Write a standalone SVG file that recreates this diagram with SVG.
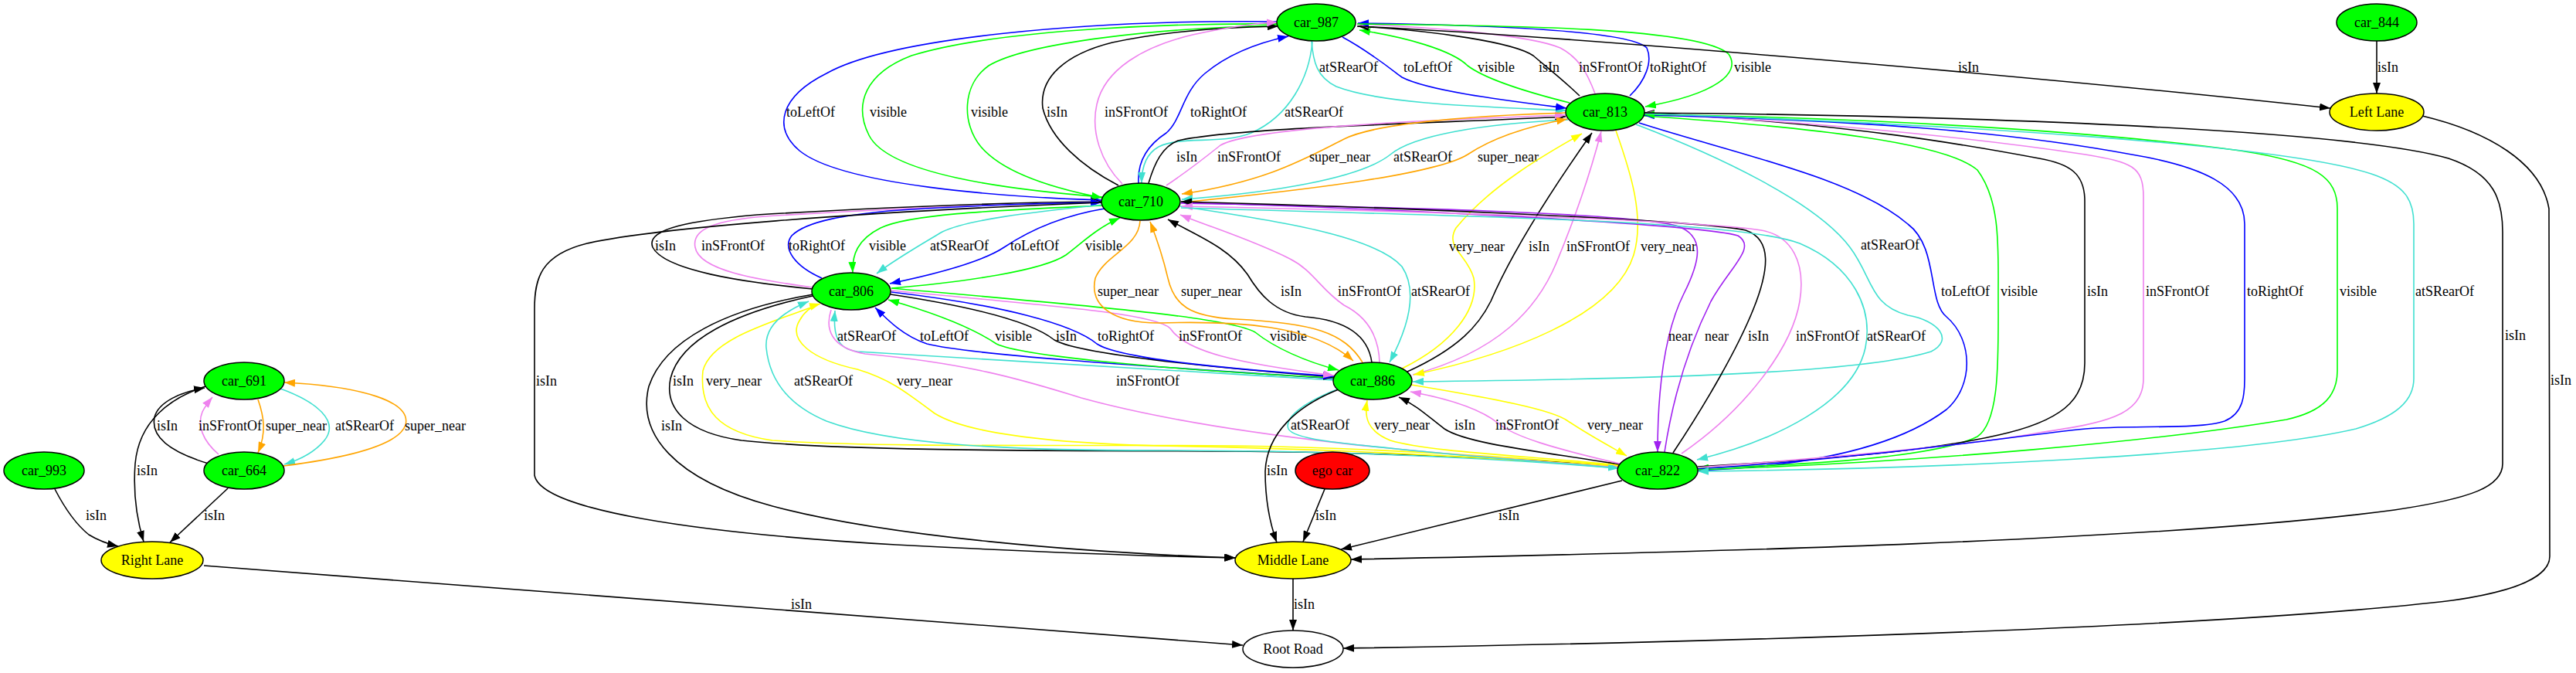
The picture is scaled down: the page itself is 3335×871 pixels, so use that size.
<svg xmlns="http://www.w3.org/2000/svg" width="3335" height="871" viewBox="0 0 3335 871">
<style>
text{font-family:"Liberation Serif","Times New Roman",serif;font-size:18px;fill:#000}
.n text{text-anchor:middle}
.n ellipse{stroke:#000;stroke-width:1.5}
.gr{fill:#00ff00}.ye{fill:#ffff00}.re{fill:#ff0000}.wh{fill:#fff}
#edges path{fill:none;stroke-width:1.6}
.k{stroke:#000;marker-end:url(#ak)}
.v{stroke:#ee82ee;marker-end:url(#av)}
.t{stroke:#40e0d0;marker-end:url(#at)}
.b{stroke:#0000ff;marker-end:url(#ab)}
.g{stroke:#00ff00;marker-end:url(#ag)}
.o{stroke:#ffa500;marker-end:url(#ao)}
.y{stroke:#ffff00;marker-end:url(#ay)}
.p{stroke:#a020f0;marker-end:url(#ap)}
</style>
<defs>
<marker id="ak" viewBox="0 0 14 10" refX="14" refY="5" markerWidth="14" markerHeight="10" markerUnits="userSpaceOnUse" orient="auto"><path d="M0,0L14,5L0,10z" fill="#000"/></marker>
<marker id="av" viewBox="0 0 14 10" refX="14" refY="5" markerWidth="14" markerHeight="10" markerUnits="userSpaceOnUse" orient="auto"><path d="M0,0L14,5L0,10z" fill="#ee82ee"/></marker>
<marker id="at" viewBox="0 0 14 10" refX="14" refY="5" markerWidth="14" markerHeight="10" markerUnits="userSpaceOnUse" orient="auto"><path d="M0,0L14,5L0,10z" fill="#40e0d0"/></marker>
<marker id="ab" viewBox="0 0 14 10" refX="14" refY="5" markerWidth="14" markerHeight="10" markerUnits="userSpaceOnUse" orient="auto"><path d="M0,0L14,5L0,10z" fill="#0000ff"/></marker>
<marker id="ag" viewBox="0 0 14 10" refX="14" refY="5" markerWidth="14" markerHeight="10" markerUnits="userSpaceOnUse" orient="auto"><path d="M0,0L14,5L0,10z" fill="#00ff00"/></marker>
<marker id="ao" viewBox="0 0 14 10" refX="14" refY="5" markerWidth="14" markerHeight="10" markerUnits="userSpaceOnUse" orient="auto"><path d="M0,0L14,5L0,10z" fill="#ffa500"/></marker>
<marker id="ay" viewBox="0 0 14 10" refX="14" refY="5" markerWidth="14" markerHeight="10" markerUnits="userSpaceOnUse" orient="auto"><path d="M0,0L14,5L0,10z" fill="#ffff00"/></marker>
<marker id="ap" viewBox="0 0 14 10" refX="14" refY="5" markerWidth="14" markerHeight="10" markerUnits="userSpaceOnUse" orient="auto"><path d="M0,0L14,5L0,10z" fill="#a020f0"/></marker>
</defs>
<rect width="3335" height="871" fill="#fff"/>
<g id="edges">
<!-- 987 - 710 -->
<path class="b" d="M1654,28 C1400,25 1150,50 1070,95 C1010,125 1000,165 1035,195 C1090,240 1300,255 1426,259"/>
<text x="1018" y="151">toLeftOf</text>
<path class="g" d="M1428,255 C1300,245 1150,225 1125,175 C1105,135 1120,95 1180,72 C1300,35 1550,30 1654,31"/>
<text x="1126" y="151">visible</text>
<path class="g" d="M1654,33 C1500,36 1330,55 1280,85 C1245,110 1245,160 1270,190 C1300,225 1370,245 1427,256"/>
<text x="1257" y="151">visible</text>
<path class="k" d="M1448,240 C1400,215 1360,180 1350,140 C1345,100 1380,70 1440,55 C1510,40 1590,35 1655,34"/>
<text x="1355" y="151">isIn</text>
<path class="v" d="M1453,238 C1425,210 1412,170 1420,135 C1430,90 1480,60 1544,45 C1590,35 1625,30 1654,29"/>
<text x="1430" y="151">inSFrontOf</text>
<path class="b" d="M1474,237 C1472,205 1490,185 1510,172 C1530,155 1530,120 1560,95 C1590,70 1630,55 1668,47"/>
<text x="1541" y="151">toRightOf</text>
<path class="t" d="M1699,54 C1695,100 1670,150 1620,172 C1580,188 1530,175 1500,190 C1482,200 1478,220 1478,237"/>
<text x="1663" y="151">atSRearOf</text>
<!-- 987 - 813 -->
<path class="t" d="M1698,53 C1700,80 1705,100 1730,112 C1790,135 1920,138 2028,143"/>
<text x="1708" y="93">atSRearOf</text>
<path class="b" d="M1738,48 C1770,65 1795,85 1815,100 C1850,118 1950,130 2028,140"/>
<text x="1817" y="93">toLeftOf</text>
<path class="g" d="M2032,133 C1960,115 1920,100 1900,85 C1880,65 1820,48 1760,39"/>
<text x="1913" y="93">visible</text>
<path class="k" d="M2045,124 C2020,100 2000,85 1985,72 C1960,55 1860,40 1758,34"/>
<text x="1992" y="93">isIn</text>
<path class="v" d="M2065,121 C2055,95 2045,75 2020,62 C1980,45 1850,35 1757,31"/>
<text x="2044" y="93">inSFrontOf</text>
<path class="b" d="M2110,124 C2130,105 2140,80 2132,62 C2110,38 1900,32 1758,30"/>
<text x="2136" y="93">toRightOf</text>
<path class="g" d="M1757,31 C1950,33 2200,35 2238,70 C2255,95 2220,122 2130,138"/>
<text x="2245" y="93">visible</text>
<path class="k" d="M1757,34 C2000,45 2600,95 3017,140"/>
<text x="2535" y="93">isIn</text>
<path class="k" d="M3077,53 L3077,121"/>
<text x="3078" y="93">isIn</text>
<!-- 710 - 813 -->
<path class="k" d="M1487,237 C1495,210 1505,190 1525,182 C1600,165 1850,160 2027,151"/>
<text x="1523" y="209">isIn</text>
<path class="v" d="M1510,240 C1540,220 1565,200 1580,188 C1620,165 1850,155 2027,149"/>
<text x="1576" y="209">inSFrontOf</text>
<path class="o" d="M2027,146 C1900,150 1780,160 1740,180 C1690,205 1640,235 1530,251"/>
<text x="1695" y="209">super_near</text>
<path class="t" d="M2030,155 C1920,160 1830,175 1800,200 C1760,232 1640,250 1530,258"/>
<text x="1804" y="209">atSRearOf</text>
<path class="o" d="M1530,262 C1700,245 1860,225 1900,200 C1930,180 1970,165 2029,154"/>
<text x="1913" y="209">super_near</text>
<!-- 710 - 806 -->
<path class="k" d="M1052,374 C960,365 860,350 845,320 C835,295 900,285 980,278 C1150,268 1300,262 1426,261"/>
<text x="848" y="324">isIn</text>
<path class="v" d="M1052,372 C980,362 905,350 900,320 C895,295 930,285 990,280 C1150,270 1300,264 1426,262"/>
<text x="908" y="324">inSFrontOf</text>
<path class="b" d="M1064,360 C1030,345 1012,322 1025,305 C1045,285 1100,278 1150,273 C1250,266 1350,263 1426,262"/>
<text x="1021" y="324">toRightOf</text>
<path class="g" d="M1428,266 C1300,272 1180,276 1140,295 C1110,310 1103,330 1104,353"/>
<text x="1125" y="324">visible</text>
<path class="t" d="M1428,265 C1330,275 1250,285 1220,300 C1195,315 1160,335 1135,354"/>
<text x="1204" y="324">atSRearOf</text>
<path class="b" d="M1430,270 C1370,280 1330,300 1300,320 C1270,340 1210,355 1152,367"/>
<text x="1308" y="324">toLeftOf</text>
<path class="g" d="M1154,373 C1250,365 1350,350 1380,330 C1400,315 1420,295 1450,282"/>
<text x="1405" y="324">visible</text>
<!-- 806 - 886 -->
<path class="t" d="M1727,492 C1500,478 1250,465 1110,455 C1085,452 1078,435 1081,402"/>
<text x="1084" y="441">atSRearOf</text>
<path class="b" d="M1727,490 C1500,475 1260,460 1200,445 C1170,435 1150,415 1133,398"/>
<text x="1191" y="441">toLeftOf</text>
<path class="g" d="M1727,489 C1500,478 1320,460 1290,445 C1260,425 1210,405 1150,388"/>
<text x="1288" y="441">visible</text>
<path class="k" d="M1153,381 C1280,400 1340,420 1365,440 C1400,460 1600,478 1727,488"/>
<text x="1367" y="441">isIn</text>
<path class="b" d="M1154,378 C1300,395 1390,420 1420,445 C1450,465 1600,478 1727,487"/>
<text x="1421" y="441">toRightOf</text>
<path class="v" d="M1154,376 C1350,395 1495,405 1515,425 C1535,455 1600,470 1727,486"/>
<text x="1526" y="441">inSFrontOf</text>
<path class="g" d="M1154,373 C1400,395 1590,410 1625,430 C1650,450 1690,468 1733,479"/>
<text x="1644" y="441">visible</text>
<!-- 710 - 886 -->
<path class="o" d="M1476,286 C1474,320 1430,330 1418,360 C1410,395 1440,418 1500,418 C1600,415 1700,420 1752,467"/>
<text x="1421" y="383">super_near</text>
<path class="o" d="M1764,469 C1740,430 1700,418 1600,413 C1540,410 1520,395 1512,360 C1505,330 1498,310 1489,287"/>
<text x="1529" y="383">super_near</text>
<path class="k" d="M1776,469 C1772,440 1750,415 1690,410 C1650,405 1630,380 1615,355 C1590,320 1550,305 1512,284"/>
<text x="1658" y="383">isIn</text>
<path class="v" d="M1786,469 C1785,435 1770,410 1740,395 C1710,375 1700,350 1670,335 C1620,310 1570,295 1528,278"/>
<text x="1732" y="383">inSFrontOf</text>
<path class="t" d="M1528,267 C1650,285 1780,305 1815,345 C1835,375 1825,420 1799,469"/>
<text x="1827" y="383">atSRearOf</text>
<!-- 813 - 886 -->
<path class="y" d="M1815,477 C1880,445 1915,400 1908,360 C1900,330 1870,320 1885,295 C1930,240 2000,200 2048,173"/>
<text x="1876" y="325">very_near</text>
<path class="k" d="M1822,481 C1890,450 1915,420 1930,390 C1960,320 2020,230 2061,172"/>
<text x="1979" y="325">isIn</text>
<path class="v" d="M1829,485 C1940,455 1990,400 2015,340 C2040,280 2060,220 2073,170"/>
<text x="2028" y="325">inSFrontOf</text>
<path class="y" d="M2092,169 C2110,220 2130,280 2115,330 C2090,410 1950,460 1830,485"/>
<text x="2124" y="325">very_near</text>
<path class="t" d="M2118,161 C2220,200 2350,260 2395,320 C2425,360 2420,395 2470,408 C2510,415 2530,440 2500,455 C2420,480 2200,490 1829,494"/>
<text x="2409" y="323">atSRearOf</text>
<!-- 710 - 822 -->
<path class="p" d="M1529,263 C1800,268 2100,275 2170,292 C2210,305 2200,340 2180,380 C2155,430 2146,500 2146,585"/>
<text x="2160" y="441">near</text>
<path class="p" d="M2155,585 C2165,520 2185,450 2215,390 C2240,345 2275,320 2250,305 C2200,290 1800,270 1529,262"/>
<text x="2207" y="441">near</text>
<path class="k" d="M2166,586 C2210,520 2250,450 2270,400 C2290,350 2295,310 2260,298 C2200,285 1800,268 1529,261"/>
<text x="2263" y="441">isIn</text>
<path class="v" d="M2177,587 C2260,530 2320,450 2330,390 C2338,340 2320,305 2280,298 C2200,285 1800,272 1530,267"/>
<text x="2325" y="441">inSFrontOf</text>
<path class="t" d="M1529,269 C1900,280 2250,285 2330,315 C2400,345 2425,400 2415,450 C2400,520 2300,570 2197,595"/>
<text x="2417" y="441">atSRearOf</text>
<!-- 813 - 822 -->
<path class="b" d="M2122,159 C2250,200 2400,230 2470,290 C2510,320 2495,390 2520,410 C2555,440 2555,500 2520,530 C2440,590 2300,605 2198,609"/>
<text x="2513" y="383">toLeftOf</text>
<path class="g" d="M2128,150 C2350,165 2520,185 2560,220 C2590,260 2587,320 2587,380 C2587,460 2590,545 2560,565 C2500,595 2300,603 2198,606"/>
<text x="2590" y="383">visible</text>
<path class="k" d="M2198,604 C2350,595 2500,585 2600,560 C2680,540 2699,510 2699,470 L2699,260 C2699,225 2680,212 2640,205 C2560,190 2400,160 2128,146"/>
<text x="2702" y="383">isIn</text>
<path class="v" d="M2198,605 C2400,590 2560,575 2640,560 C2720,548 2775,540 2775,490 L2775,255 C2775,215 2760,210 2700,200 C2600,185 2400,160 2128,147"/>
<text x="2778" y="383">inSFrontOf</text>
<path class="b" d="M2198,607 C2450,590 2600,565 2700,555 C2760,550 2850,556 2880,545 C2905,535 2906,510 2906,490 L2906,290 C2906,240 2850,215 2760,200 C2600,170 2400,155 2128,149"/>
<text x="2909" y="383">toRightOf</text>
<path class="g" d="M2198,608 C2500,598 2800,570 2960,543 C3010,532 3026,510 3026,480 L3026,270 C3026,230 3000,210 2900,195 C2700,168 2400,152 2128,148"/>
<text x="3029" y="383">visible</text>
<path class="t" d="M2128,147 C2500,160 2950,185 3070,225 C3115,240 3125,260 3125,290 L3125,490 C3125,520 3100,540 3050,555 C2900,590 2500,607 2198,610"/>
<text x="3127" y="383">atSRearOf</text>
<path class="k" d="M2128,146 C2600,150 3050,170 3170,205 C3230,225 3240,260 3240,300 L3240,600 C3240,630 3200,645 3100,660 C2800,700 2200,715 1749,724"/>
<text x="3243" y="440">isIn</text>
<path class="k" d="M3136,150 C3220,170 3290,210 3300,270 L3301,720 C3301,745 3260,765 3175,777 C2900,810 2300,830 1739,839"/>
<text x="3302" y="498">isIn</text>
<!-- to Middle Lane / 806 - 822 -->
<path class="k" d="M1426,262 C1100,275 850,295 760,315 C700,330 692,360 692,400 L692,615 C700,660 900,690 1160,705 C1350,715 1500,720 1599,722"/>
<text x="694" y="499">isIn</text>
<path class="k" d="M1053,381 C940,400 860,440 840,500 C825,560 870,620 1000,655 C1150,695 1400,715 1600,722"/>
<text x="856" y="557">isIn</text>
<path class="k" d="M1052,383 C950,405 880,440 868,490 C860,530 890,560 960,570 C1100,585 1400,583 1600,584 C1800,586 2000,595 2096,604"/>
<text x="871" y="499">isIn</text>
<path class="y" d="M1058,395 C990,420 920,440 910,480 C905,530 930,560 1000,570 C1150,580 1400,575 1600,577 C1800,580 2000,595 2096,603"/>
<text x="914" y="499">very_near</text>
<path class="t" d="M2096,606 C1900,590 1700,583 1500,583 C1300,583 1150,575 1070,545 C1010,520 995,480 992,450 C990,425 1010,405 1047,390"/>
<text x="1028" y="499">atSRearOf</text>
<path class="y" d="M2096,604 C1900,590 1700,580 1500,577 C1350,573 1250,560 1210,535 C1170,505 1150,490 1110,478 C1050,465 1020,440 1035,415 C1042,402 1052,396 1062,393"/>
<text x="1161" y="499">very_near</text>
<path class="v" d="M1076,401 C1068,425 1075,450 1120,458 C1250,470 1320,490 1400,515 C1600,570 1900,590 2096,605"/>
<text x="1445" y="499">inSFrontOf</text>
<!-- 886 - 822 -->
<path class="t" d="M1731,504 C1690,520 1662,540 1668,555 C1675,570 1750,575 1850,585 C1950,595 2030,600 2096,606"/>
<text x="1671" y="556">atSRearOf</text>
<path class="y" d="M2096,602 C1980,590 1850,585 1800,570 C1770,558 1766,540 1770,518"/>
<text x="1779" y="556">very_near</text>
<path class="k" d="M2097,601 C2000,585 1900,575 1870,555 C1850,540 1835,525 1811,514"/>
<text x="1883" y="556">isIn</text>
<path class="v" d="M2097,600 C2010,580 1960,565 1940,548 C1915,528 1870,515 1826,507"/>
<text x="1936" y="556">inSFrontOf</text>
<path class="y" d="M1827,498 C1930,515 2010,530 2030,545 C2060,565 2085,578 2106,590"/>
<text x="2055" y="556">very_near</text>
<path class="k" d="M1733,504 C1680,525 1640,560 1638,610 C1638,650 1645,680 1653,702"/>
<text x="1640" y="615">isIn</text>
<path class="k" d="M1715,633 L1687,701"/>
<text x="1703" y="673">isIn</text>
<path class="k" d="M2100,622 L1736,711"/>
<text x="1940" y="673">isIn</text>
<path class="k" d="M1674,749 L1674,816"/>
<text x="1675" y="788">isIn</text>
<path class="k" d="M264,732 L1609,835"/>
<text x="1024" y="788">isIn</text>
<!-- left cluster -->
<path class="k" d="M71,633 C85,660 100,680 115,692 C128,700 140,704 153,707"/>
<text x="111" y="673">isIn</text>
<path class="k" d="M295,632 L220,702"/>
<text x="264" y="673">isIn</text>
<path class="k" d="M266,500 C220,515 180,545 175,600 C172,640 178,675 186,701"/>
<text x="177" y="615">isIn</text>
<path class="k" d="M270,600 C220,585 195,565 200,540 C205,520 235,507 265,502"/>
<text x="203" y="557">isIn</text>
<path class="v" d="M283,588 C262,570 255,550 262,533 C266,525 270,520 275,514"/>
<text x="257" y="557">inSFrontOf</text>
<path class="o" d="M334,517 C342,540 345,560 334,586"/>
<text x="344" y="557">super_near</text>
<path class="t" d="M363,503 C410,520 440,545 420,570 C405,588 385,596 368,601"/>
<text x="434" y="557">atSRearOf</text>
<path class="o" d="M367,603 C430,595 515,580 525,550 C533,520 470,500 368,495"/>
<text x="524" y="557">super_near</text>
</g>
<g id="car_987" class="n"><ellipse class="gr" cx="1704" cy="29" rx="51" ry="24"/><text x="1704" y="35">car_987</text></g>
<g id="car_844" class="n"><ellipse class="gr" cx="3077" cy="29" rx="52" ry="24"/><text x="3077" y="35">car_844</text></g>
<g id="car_813" class="n"><ellipse class="gr" cx="2078" cy="145" rx="51" ry="24"/><text x="2078" y="151">car_813</text></g>
<g id="left_lane" class="n"><ellipse class="ye" cx="3077" cy="145" rx="61" ry="24"/><text x="3077" y="151">Left Lane</text></g>
<g id="car_710" class="n"><ellipse class="gr" cx="1477" cy="261" rx="51" ry="24"/><text x="1477" y="267">car_710</text></g>
<g id="car_806" class="n"><ellipse class="gr" cx="1102" cy="377" rx="51" ry="24"/><text x="1102" y="383">car_806</text></g>
<g id="car_886" class="n"><ellipse class="gr" cx="1777" cy="493" rx="51" ry="24"/><text x="1777" y="499">car_886</text></g>
<g id="car_691" class="n"><ellipse class="gr" cx="316" cy="493" rx="52" ry="24"/><text x="316" y="499">car_691</text></g>
<g id="car_993" class="n"><ellipse class="gr" cx="57" cy="609" rx="52" ry="24"/><text x="57" y="615">car_993</text></g>
<g id="car_664" class="n"><ellipse class="gr" cx="316" cy="609" rx="52" ry="24"/><text x="316" y="615">car_664</text></g>
<g id="ego_car" class="n"><ellipse class="re" cx="1725" cy="609" rx="48" ry="24"/><text x="1725" y="615">ego car</text></g>
<g id="car_822" class="n"><ellipse class="gr" cx="2146" cy="609" rx="52" ry="24"/><text x="2146" y="615">car_822</text></g>
<g id="right_lane" class="n"><ellipse class="ye" cx="197" cy="725" rx="66" ry="24"/><text x="197" y="731">Right Lane</text></g>
<g id="middle_lane" class="n"><ellipse class="ye" cx="1674" cy="725" rx="75" ry="24"/><text x="1674" y="731">Middle Lane</text></g>
<g id="root_road" class="n"><ellipse class="wh" cx="1674" cy="840" rx="65" ry="24"/><text x="1674" y="846">Root Road</text></g>
</svg>
